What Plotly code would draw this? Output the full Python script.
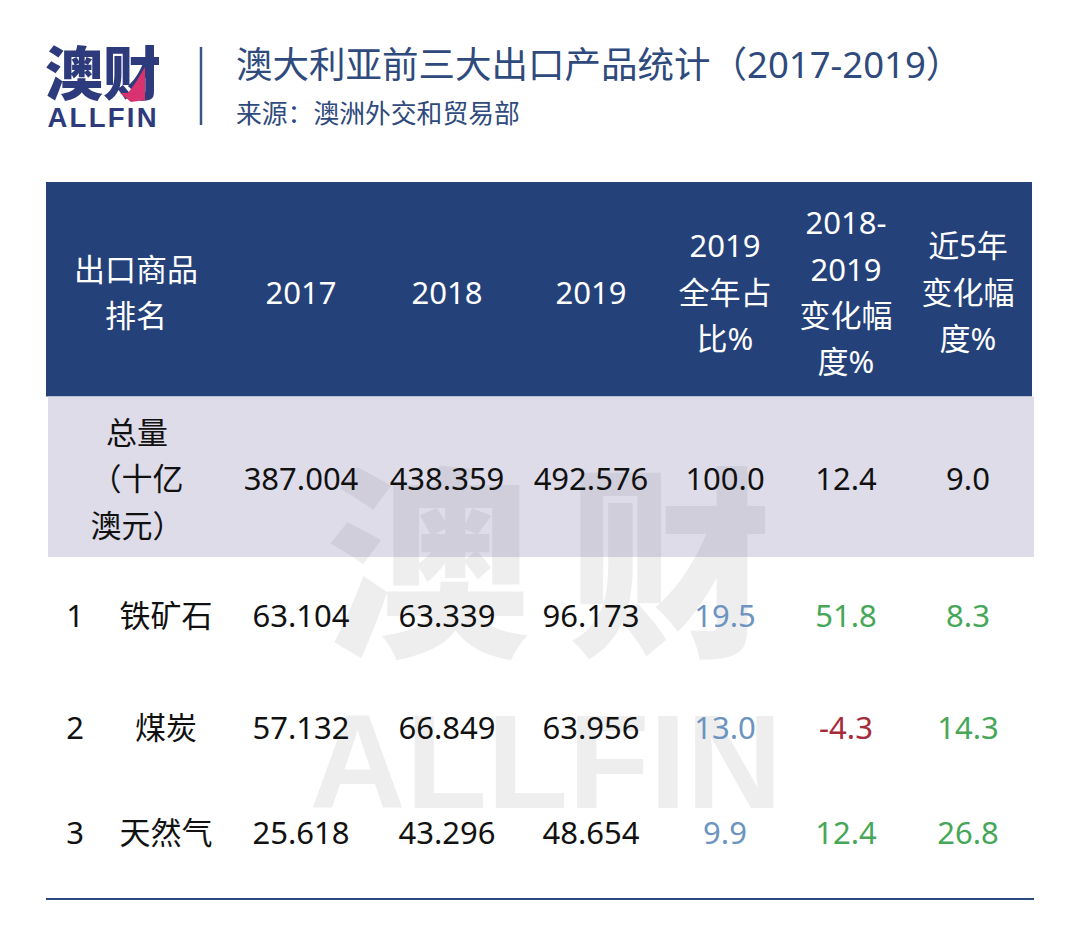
import plotly.graph_objects as go

CJK = "Noto Sans, Noto Sans CJK SC, sans-serif"

# table content
header_labels = ["出口商品<br>排名", "2017", "2018", "2019", "2019<br>全年占<br>比%",
                 "2018-<br>2019<br>变化幅<br>度%", "近5年<br>变化幅<br>度%"]
total_label = ["总量", "（十亿", "澳元）"]
ranks = ["1", "2", "3"]
products = ["铁矿石", "煤炭", "天然气"]
v2017 = [63.104, 57.132, 25.618]
v2018 = [63.339, 66.849, 43.296]
v2019 = [96.173, 63.956, 48.654]
share = [19.5, 13.0, 9.9]
chg_1y = [51.8, -4.3, 12.4]
chg_5y = [8.3, 14.3, 26.8]
total_years = [387.004, 438.359, 492.576]
total_pct = [100.0, 12.4, 9.0]

# layout in page pixels
col_x = [136, 301, 447, 591, 725, 846, 968]
row_y = [619.5, 731.5, 836.5]
header_mid = 296
total_mid = 482.5
line_gap = 46.3

INK = "#111111"
BLUE = "#6c94bf"
GREEN = "#46a758"
RED = "#a52a3a"
NAVY = "#24417a"
TITLE = "#2f4a7c"

fig = go.Figure()


def add_text(x, y, text, color, size=31, font=CJK, weight="normal", pos="middle center"):
    fig.add_trace(go.Scatter(x=x, y=y, text=text, mode="text", textposition=pos,
                             textfont=dict(family=font, size=size, color=color, weight=weight),
                             hoverinfo="skip", showlegend=False))


# watermark goes first so the table text sits on top
WM = "rgba(90,90,100,0.10)"
add_text([428, 670], [590, 590], ["澳", "财"], WM, size=204, weight=900)
add_text([546], [775], ["ALLFIN"], WM, size=133, font="Liberation Sans", weight="bold")

# logo and titles
add_text([103], [80], ["澳财"], "#2d3a7c", size=58, weight=900)
add_text([102], [120], ["A\u200aL\u200aL\u200aF\u200aI\u200aN"], "#2d3a7c", size=27.5,
         font="Liberation Sans", weight="bold")
add_text([236], [69], ["澳大利亚前三大出口产品统计（2017-2019）"], TITLE, size=36.5, pos="middle right")
add_text([236], [117], ["来源：澳洲外交和贸易部"], TITLE, size=25.8, pos="middle right")

# header, one point per line so the line spacing can follow the picture
hx, hy, ht = [], [], []
for cx, label in zip(col_x, header_labels):
    lines = label.split("<br>")
    for i, line in enumerate(lines):
        hx.append(cx)
        hy.append(header_mid + (i - (len(lines) - 1) / 2) * line_gap)
        ht.append(line)
add_text(hx, hy, ht, "white")

# total row
add_text([137] * 3, [total_mid + (i - 1) * line_gap for i in range(3)], total_label, INK)
add_text(col_x[1:4], [total_mid] * 3, [f"{v:.3f}" for v in total_years], INK)
add_text(col_x[4:], [total_mid] * 3, [f"{v:.1f}" for v in total_pct], INK)

# product rows
add_text([75] * 3, row_y, ranks, INK)
add_text([166] * 3, row_y, products, INK)
for cx, vals in zip(col_x[1:4], [v2017, v2018, v2019]):
    add_text([cx] * 3, row_y, [f"{v:.3f}" for v in vals], INK)
add_text([col_x[4]] * 3, row_y, [f"{v:.1f}" for v in share], BLUE)
for cx, vals in zip(col_x[5:], [chg_1y, chg_5y]):
    add_text([cx] * 3, row_y, [f"{v:.1f}" for v in vals], [RED if v < 0 else GREEN for v in vals])

shapes = [
    dict(type="rect", x0=46, x1=1032, y0=182, y1=396.5, fillcolor=NAVY, line_width=0, layer="below"),
    dict(type="rect", x0=48, x1=1034, y0=396.5, y1=557, fillcolor="#dedce9", line_width=0, layer="below"),
    dict(type="line", x0=46, x1=1034, y0=899, y1=899, line=dict(color="#2a4a80", width=2), layer="below"),
    dict(type="line", x0=201, x1=201, y0=47, y1=125, line=dict(color="#3a5585", width=2.5), layer="below"),
    # pink tick in the logo
    dict(type="path", path="M 120 93 L 128 93 L 136 82 L 145 67 L 145 100 L 131 102 Z",
         fillcolor="#d8336e", line_width=0, layer="above"),
]

fig.update_layout(
    width=1080, height=948, margin=dict(l=0, r=0, t=0, b=0),
    paper_bgcolor="white", plot_bgcolor="white", showlegend=False,
    shapes=shapes,
    xaxis=dict(range=[0, 1080], visible=False, fixedrange=True),
    yaxis=dict(range=[948, 0], visible=False, fixedrange=True),
)

fig.write_html("out.html", config={"displayModeBar": False},
               post_script="document.body.style.margin='0';")
